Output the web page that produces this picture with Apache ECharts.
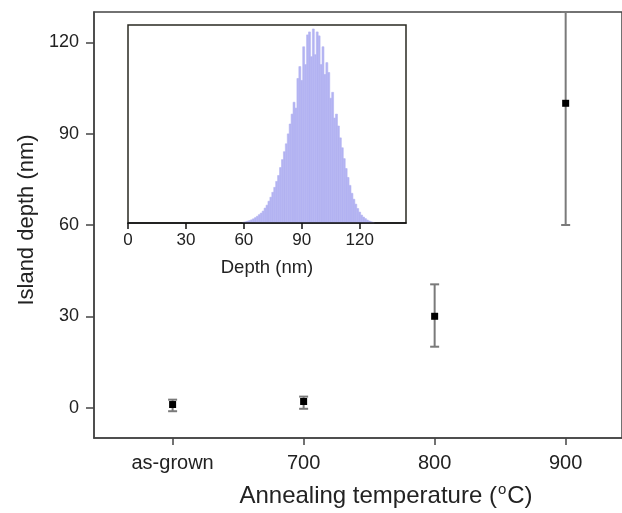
<!DOCTYPE html>
<html>
<head>
<meta charset="utf-8">
<script src="https://cdn.jsdelivr.net/npm/echarts@6/dist/echarts.min.js"></script>
<style>html,body{margin:0;padding:0;background:#fff}#c{width:622px;height:513px}</style>
</head>
<body>
<div id="c"></div>
<script>
// Main plot data
const categories = ['as-grown', '700', '800', '900'];
const depthMean = [1, 2, 30, 100];
const depthErrLow = [-1.2, -0.4, 20, 60];
const depthErrHigh = [2.6, 3.6, 40.5, 130];
const yTicks = [0, 30, 60, 90, 120];

// Inset histogram data (depth bin centre in nm, relative counts)
const histDepth = [60,61,62,63,64,65,66,67,68,69,70,71,72,73,74,75,76,77,78,79,80,81,82,83,84,85,86,87,88,89,90,91,92,93,94,95,96,97,98,99,100,101,102,103,104,105,106,107,108,109,110,111,112,113,114,115,116,117,118,119,120,121,122,123,124,125,126,127];
const histCount = [0.4,0.6,0.9,1.2,1.6,2.1,2.7,3.4,4.2,5.0,6,7.5,9,11,13,15.5,18,21,24,28,32,36,40,45,50,55,61,58,73,79,72,89,80,95,96.5,84,98,85,96.5,94.5,80,89,75,81,76,63,66,53,55,49,43,38,32.5,27.5,23,19,15,12,9.5,7.3,5.5,4,3,2.2,1.5,1,0.6,0.3];
const histBinWidth = 1;

const FONT = 'Liberation Sans, Arial, sans-serif';
const chart = echarts.init(document.getElementById('c'), null, {renderer: 'canvas'});

const errData = categories.map((c, i) => [i, depthMean[i], depthErrLow[i], depthErrHigh[i]]);
const histData = histDepth.map((d, i) => [d, histCount[i]]);

chart.setOption({
  animation: false,
  backgroundColor: '#fff',
  grid: [
    {left: 94, top: 12, right: -2, bottom: 74, show: true, borderColor: '#444', borderWidth: 1.5, backgroundColor: 'transparent'},
    {left: 128, top: 25, width: 278, height: 198, show: true, borderColor: '#2a2a22', borderWidth: 1.5, backgroundColor: '#fff', z: 5}
  ],
  xAxis: [
    {
      gridIndex: 0, type: 'value', min: -0.6, max: 3.43,
      splitLine: {show: false},
      axisLine: {show: true, onZero: false, lineStyle: {color: '#444', width: 1.5}},
      axisTick: {show: true, customValues: [0, 1, 2, 3], length: 7, lineStyle: {color: '#444', width: 1.5}},
      axisLabel: {customValues: [0, 1, 2, 3], formatter: v => categories[Math.round(v)], fontFamily: FONT, fontSize: 20, color: '#222', margin: 15},
      name: '{a|Annealing temperature (}{s|o}{a|C)}',
      nameLocation: 'middle', nameGap: 44,
      nameTextStyle: {padding: [0, 0, 0, 56], rich: {
        a: {fontFamily: FONT, fontSize: 24, color: '#222'},
        s: {fontFamily: FONT, fontSize: 15, color: '#222', padding: [0, 1, 13, 1]}
      }}
    },
    {
      gridIndex: 1, type: 'value', min: 0, max: 144, interval: 30,
      splitLine: {show: false},
      axisLine: {show: true, onZero: false, lineStyle: {color: '#111', width: 1.5}},
      axisTick: {show: true, length: 6, lineStyle: {color: '#111', width: 1.5}},
      axisLabel: {fontFamily: FONT, fontSize: 17, color: '#222', margin: 9, showMaxLabel: false},
      name: 'Depth (nm)', nameLocation: 'middle', nameGap: 35,
      nameTextStyle: {fontFamily: FONT, fontSize: 18.5, color: '#222'},
      z: 6
    }
  ],
  yAxis: [
    {
      gridIndex: 0, type: 'value', min: -10, max: 130,
      splitLine: {show: false},
      axisLine: {show: true, onZero: false, lineStyle: {color: '#444', width: 1.5}},
      axisTick: {show: true, customValues: yTicks, length: 8, lineStyle: {color: '#444', width: 1.5}},
      axisLabel: {customValues: yTicks, fontFamily: FONT, fontSize: 18, color: '#222', margin: 15},
      name: 'Island depth (nm)', nameLocation: 'middle', nameGap: 52, nameRotate: 90,
      nameTextStyle: {fontFamily: FONT, fontSize: 22, color: '#222', padding: [0, 0, 0, 10]}
    },
    {
      gridIndex: 1, type: 'value', min: 0, max: 100,
      show: true, splitLine: {show: false},
      axisLine: {show: false, onZero: false}, axisTick: {show: false}, axisLabel: {show: false}
    }
  ],
  series: [
    {
      type: 'custom', xAxisIndex: 0, yAxisIndex: 0, data: errData, z: 3,
      renderItem: function (params, api) {
        const x = api.value(0);
        const p = api.coord([x, api.value(1)]);
        const lo = api.coord([x, api.value(2)]);
        const hi = api.coord([x, api.value(3)]);
        const cap = 4.5, m = 3.5;
        const ls = {stroke: '#7a7a7a', lineWidth: 2};
        return {type: 'group', children: [
          {type: 'line', shape: {x1: p[0], y1: lo[1], x2: p[0], y2: hi[1]}, style: ls},
          {type: 'line', shape: {x1: p[0] - cap, y1: lo[1], x2: p[0] + cap, y2: lo[1]}, style: ls},
          {type: 'line', shape: {x1: p[0] - cap, y1: hi[1], x2: p[0] + cap, y2: hi[1]}, style: ls},
          {type: 'rect', shape: {x: p[0] - m, y: p[1] - m, width: 2 * m, height: 2 * m}, style: {fill: '#000'}}
        ]};
      }
    },
    {
      type: 'custom', xAxisIndex: 1, yAxisIndex: 1, data: histData, z: 6, silent: true,
      renderItem: function (params, api) {
        const x = api.value(0), v = api.value(1);
        const a = api.coord([x - histBinWidth / 2, v]);
        const b = api.coord([x + histBinWidth / 2, 0]);
        return {type: 'rect', shape: {x: a[0], y: a[1], width: b[0] - a[0], height: b[1] - a[1]},
                style: {fill: '#b3b3f2', stroke: '#b3b3f2', lineWidth: 0.6}};
      }
    }
  ]
});
</script>
</body>
</html>
